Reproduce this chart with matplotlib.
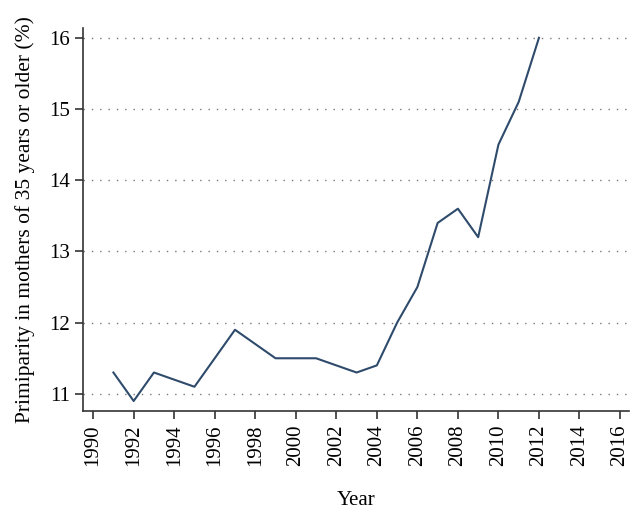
import matplotlib
matplotlib.use("Agg")
import matplotlib.pyplot as plt

years = [1991, 1992, 1993, 1994, 1995, 1996, 1997, 1998, 1999, 2000, 2001,
         2002, 2003, 2004, 2005, 2006, 2007, 2008, 2009, 2010, 2011, 2012]
primiparity = [11.3, 10.9, 11.3, 11.2, 11.1, 11.5, 11.9, 11.7, 11.5, 11.5, 11.5,
               11.4, 11.3, 11.4, 12.0, 12.5, 13.4, 13.6, 13.2, 14.5, 15.1, 16.0]
x_ticks = list(range(1990, 2017, 2))
y_ticks = [11, 12, 13, 14, 15, 16]

plt.rcParams['font.family'] = ['Liberation Serif', 'DejaVu Serif']

fig = plt.figure(figsize=(6.41, 5.15), dpi=100)
ax = fig.add_axes([0.1295, 0.202, 0.852, 0.744])

ax.plot(years, primiparity, color='#2f4b6c', linewidth=1.5)

ax.set_xlim(1989.5, 2016.45)
ax.set_ylim(10.76, 16.14)
ax.set_xticks(x_ticks)
ax.set_xticklabels([str(t) for t in x_ticks], rotation=90)
ax.set_yticks(y_ticks)

for y in y_ticks:
    ax.axhline(y, color='#777777', linestyle=(0, (1, 5)), linewidth=1.0, zorder=0)

for side in ['top', 'right']:
    ax.spines[side].set_visible(False)
for side in ['left', 'bottom']:
    ax.spines[side].set_color('#333333')
    ax.spines[side].set_linewidth(1.2)

ax.tick_params(axis='both', direction='out', length=6, width=1.2,
               colors='#333333', labelsize=15, labelcolor='black')

ax.set_ylabel('Primiparity in mothers of 35 years or older (%)', fontsize=15.5, labelpad=10)
ax.set_xlabel('Year', fontsize=15, labelpad=18)

fig.savefig('out.png', dpi=100, facecolor='white')
